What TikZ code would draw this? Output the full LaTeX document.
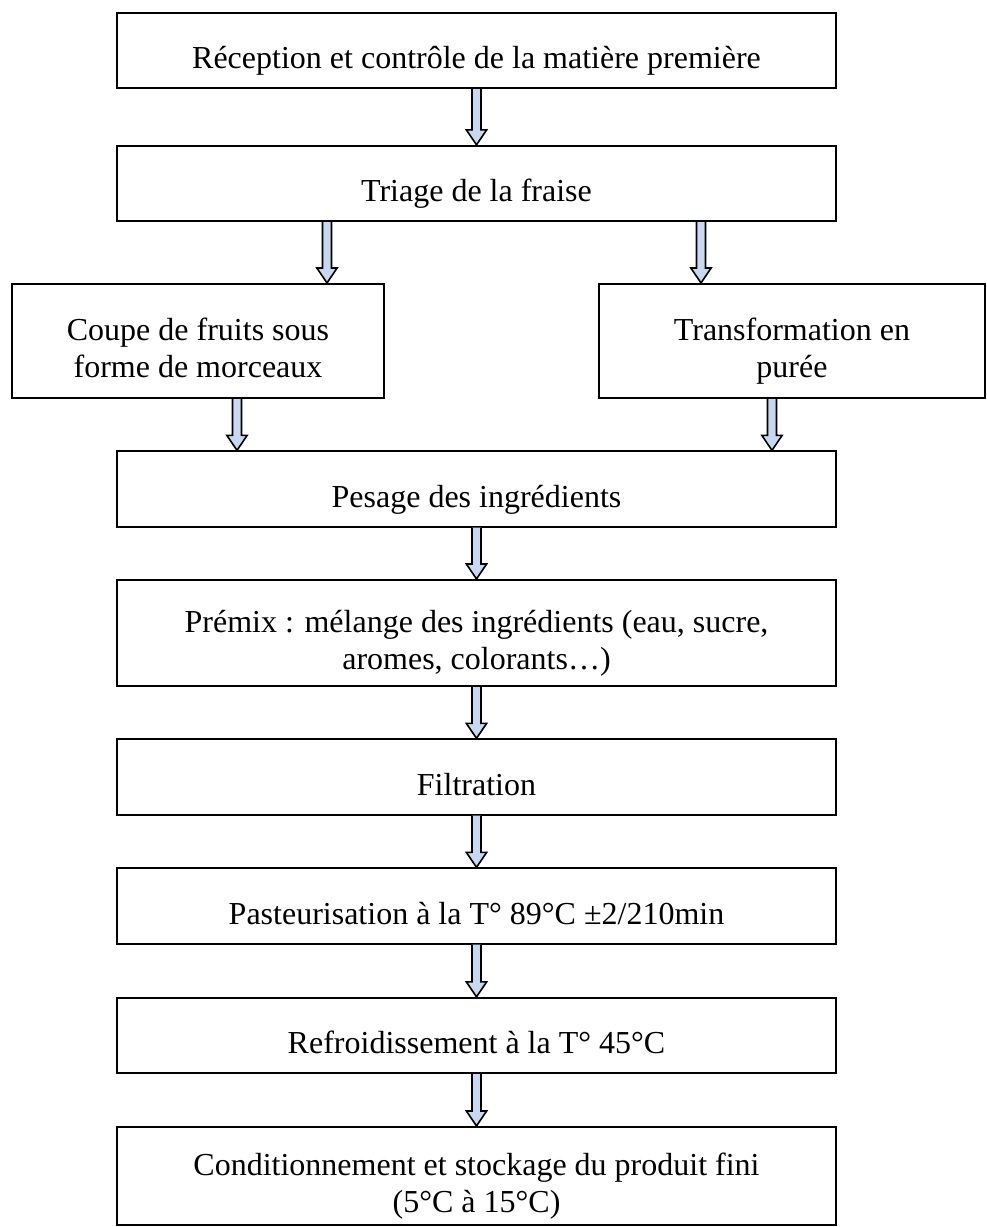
\documentclass[tikz,border=0pt]{standalone}
\usepackage{fontspec}
\setmainfont{Liberation Serif}
\usepackage{xcolor}
\usetikzlibrary{calc}

\definecolor{bleuclair}{RGB}{198,217,241}

\tikzset{
  etape/.style={draw=black, line width=0.8pt, fill=white, inner sep=0pt,
    align=center, minimum width=269.6pt, minimum height=28.2pt,
    font=\fontsize{12pt}{13.9pt}\selectfont},
  fleche/.style={draw=black, line width=0.6pt, fill=bleuclair, line join=miter}
}

% struts: text sits a little low in the boxes
\newcommand{\haut}{\rule{0pt}{16.5pt}}
\newcommand{\bas}{\rule[-3pt]{0pt}{0pt}}

% block arrow from #1 (top) to #2 (tip)
\newcommand{\fleche}[2]{%
  \path[fleche] let \p1=(#1), \p2=(#2) in
    (\x1-1.7pt,\y1) -- (\x1-1.7pt,\y2-5.6pt) -- (\x1-3.8pt,\y2-5.6pt) -- (\x1,\y2)
    -- (\x1+3.8pt,\y2-5.6pt) -- (\x1+1.7pt,\y2-5.6pt) -- (\x1+1.7pt,\y1);
}

\begin{document}
\begin{tikzpicture}[x=0.375pt,y=0.375pt,yscale=-1,xscale=1]
    \useasboundingbox (0,0) rectangle (987,1227);

    % Steps
    \node[etape] (recep) at (476.5,50.5) {\haut Réception et contrôle de la matière première\bas};
    \node[etape] (triage) at (476.5,183.5) {\haut Triage de la fraise\bas};
    \node[etape, minimum width=139.5pt, minimum height=42.75pt] (coupe) at (198,341)
        {\haut Coupe de fruits sous\\forme de morceaux\bas};
    \node[etape, minimum width=144.75pt, minimum height=42.75pt] (puree) at (792,341)
        {\haut Transformation en\\purée\bas};
    \node[etape] (pesage) at (476.5,489) {\haut Pesage des ingrédients\bas};
    \node[etape, minimum height=39.75pt] (premix) at (476.5,633)
        {\haut Prémix : mélange des ingrédients (eau, sucre,\\aromes, colorants…)\bas};
    \node[etape] (filtr) at (476.5,777) {\haut Filtration\bas};
    \node[etape] (pasteur) at (476.5,906) {\haut Pasteurisation à la T° 89°C ±2/210min\bas};
    \node[etape] (refroid) at (476.5,1035.5) {\haut Refroidissement à la T° 45°C\bas};
    \node[etape, minimum height=36.75pt] (condit) at (476.5,1176)
        {\haut Conditionnement et stockage du produit fini\\(5°C à 15°C)\bas};

    % x positions of the side arrows
    \coordinate (xa) at (327,0);
    \coordinate (xb) at (701,0);
    \coordinate (xc) at (237,0);
    \coordinate (xd) at (772,0);

    % Arrows
    \fleche{recep.south}{triage.north}
    \fleche{triage.south -| xa}{coupe.north -| xa}
    \fleche{triage.south -| xb}{puree.north -| xb}
    \fleche{coupe.south -| xc}{pesage.north -| xc}
    \fleche{puree.south -| xd}{pesage.north -| xd}
    \fleche{pesage.south}{premix.north}
    \fleche{premix.south}{filtr.north}
    \fleche{filtr.south}{pasteur.north}
    \fleche{pasteur.south}{refroid.north}
    \fleche{refroid.south}{condit.north}
\end{tikzpicture}
\end{document}
